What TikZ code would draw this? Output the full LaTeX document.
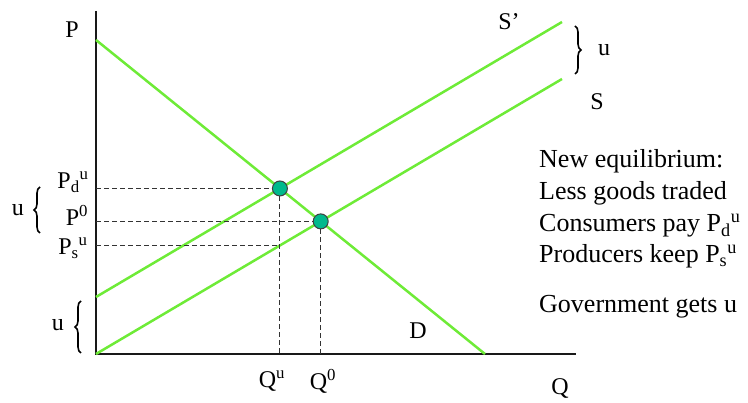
\documentclass[tikz,border=0pt]{standalone}
\usepackage{fontspec}
\setmainfont{Liberation Serif}
\usetikzlibrary{decorations.pathreplacing,positioning}
\definecolor{curvegreen}{RGB}{110,235,55}
\definecolor{dotteal}{RGB}{0,185,140}

\begin{document}
\begin{tikzpicture}[x=1pt,y=1pt,
      axis/.style={line width=2.8pt,black!90},
      curve/.style={line width=2.5pt,curvegreen},
      guide/.style={line width=1pt,dash pattern=on 5pt off 3pt,black!80},
      lbl/.style={font=\fontsize{24}{28}\selectfont,inner sep=0pt},
      txt/.style={font=\fontsize{26}{30}\selectfont,inner sep=0pt,anchor=base west},
      eqdot/.style={circle,fill=dotteal,draw=black!75,line width=1pt,minimum size=15pt,inner sep=0pt},
      brc/.style={decorate,decoration={brace,amplitude=6pt},line width=1.6pt}
    ]
    \useasboundingbox (0,0) rectangle (748,403);

    % axes
    \coordinate (O)    at (96,49);
    \coordinate (ptop) at (96,392);
    \coordinate (qend) at (576,49);
    \draw[axis] (ptop) -- (O) -- (qend);

    % demand and supply
    \coordinate (d0) at (96,363);
    \coordinate (d1) at (485,49);
    \coordinate (s1) at (562,324);
    \coordinate (t0) at (96,106);
    \coordinate (t1) at (562,381);
    \draw[curve] (d0) -- (d1);
    \draw[curve] (O) -- (s1);
    \draw[curve] (t0) -- (t1);

    \coordinate (e0) at (intersection of d0--d1 and O--s1);
    \coordinate (eu) at (intersection of d0--d1 and t0--t1);
    \coordinate (eb) at (eu |- O);
    \coordinate (es) at (intersection of eu--eb and O--s1);

    % guide lines
    \draw[guide] (O |- eu) -- (eu);
    \draw[guide] (O |- e0) -- (e0);
    \draw[guide] (O |- es) -- (es);
    \draw[guide] (eu) -- (eb);
    \draw[guide] (e0) -- (e0 |- O);

    \node[eqdot] (dotu) at (eu) {};
    \node[eqdot] (dot0) at (e0) {};

    % labels
    \node[lbl] (plab)  at (72,373) {P};
    \node[lbl] (pdu)   at (73,221) {P\textsubscript{d}\textsuperscript{u}};
    \node[lbl] (pzero) at (77,188) {P\textsuperscript{0}};
    \node[lbl] (psu)   at (73,155) {P\textsubscript{s}\textsuperscript{u}};
    \node[lbl] (qu)    at (272,22) {Q\textsuperscript{u}};
    \node[lbl] (qzero) at (323,22) {Q\textsuperscript{0}};
    \node[lbl] (qlab)  at (560,14) {Q};
    \node[lbl] (dlab)  at (418,72) {D};
    \node[lbl] (sshift) at (509,381) {S’};
    \node[lbl] (slab)  at (597,301) {S};

    % tax wedge braces
    \draw[brc] (40,170) -- (40,216);
    \node[lbl] (uleft) at (18,193) {u};
    \draw[brc] (81,50) -- (81,102);
    \node[lbl] (ulow) at (58,78) {u};
    \draw[brc] (575,377) -- (575,329);
    \node[lbl] (uright) at (604,353) {u};

    % summary text
    \node[txt] (note1) at (539,235) {New equilibrium:};
    \node[txt] (note2) at (539,203) {Less goods traded};
    \node[txt] (note3) at (539,171) {Consumers pay P\textsubscript{d}\textsuperscript{u}};
    \node[txt] (note4) at (539,140) {Producers keep P\textsubscript{s}\textsuperscript{u}};
    \node[txt] (govt)  at (539,90)  {Government gets u};
  \end{tikzpicture}
\end{document}
